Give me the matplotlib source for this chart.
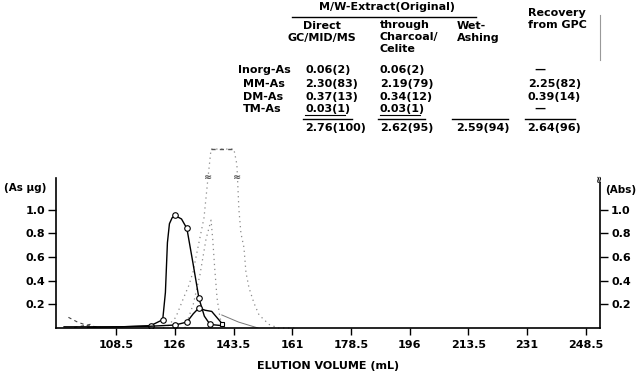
import matplotlib
matplotlib.use("Agg")
import matplotlib.pyplot as plt
from matplotlib.lines import Line2D

plt.rcParams['font.family'] = ['DejaVu Sans']
plt.rcParams['font.weight'] = 'bold'

# x ticks (elution volume, mL)
xticks = [108.5, 126, 143.5, 161, 178.5, 196, 213.5, 231, 248.5]
xtick_labels = ['108.5', '126', '143.5', '161', '178.5', '196', '213.5', '231', '248.5']
yticks = [0.2, 0.4, 0.6, 0.8, 1.0]

# As (ug) traces, solid with circles
mm_trace_x = [93, 110, 118.8, 122.4, 123.2, 123.8, 124.4, 125.2, 126, 128, 129.6, 131.4, 133.2, 134.8, 136.5, 140.0]
mm_trace_y = [0.01, 0.01, 0.02, 0.07, 0.30, 0.72, 0.88, 0.93, 0.95, 0.92, 0.84, 0.55, 0.25, 0.10, 0.03, 0.02]
mm_pts_x = [118.8, 122.4, 126, 129.6, 133.2, 136.5]
mm_pts_y = [0.02, 0.07, 0.95, 0.84, 0.25, 0.03]

dm_trace_x = [100, 118.8, 126, 129.6, 131.5, 133.2, 135, 137, 140]
dm_trace_y = [0.005, 0.015, 0.025, 0.05, 0.12, 0.17, 0.15, 0.14, 0.04]
dm_pts_x = [126, 129.6, 133.2]
dm_pts_y = [0.025, 0.05, 0.17]
dm_end_x = [140]
dm_end_y = [0.03]

# Abs traces (dotted)
big_x = [122.5, 124, 126.3, 128.7, 130.2, 131.4, 132.9, 134.7, 135.9, 136.8,
         143.6, 144.5, 145.1, 145.7, 146.6, 147.2, 148.1, 149.6, 151.1, 154.1, 156.8, 162]
big_y = [0.0, 0.02, 0.09, 0.26, 0.36, 0.47, 0.68, 0.93, 1.27, 1.51,
         1.51, 1.38, 1.0, 0.80, 0.68, 0.47, 0.34, 0.21, 0.11, 0.03, 0.0, 0.0]
top_x = [136.8, 143.6]
top_y = [1.51, 1.51]

small_x = [129, 131.5, 133.5, 135.3, 136.8, 137.3, 137.9, 138.6, 139.5, 141]
small_y = [0.0, 0.2, 0.45, 0.75, 0.91, 0.75, 0.5, 0.25, 0.08, 0.0]

tail_x = [140, 145, 150.8]
tail_y = [0.11, 0.05, 0.0]

left_x = [94.3, 97, 100, 104]
left_y = [0.09, 0.05, 0.02, 0.005]
left2_x = [96, 99, 101.5]
left2_y = [0.005, 0.02, 0.035]

# table
row_labels = ['Inorg-As', 'MM-As', 'DM-As', 'TM-As']
direct = ['0.06(2)', '2.30(83)', '0.37(13)', '0.03(1)']
charcoal = ['0.06(2)', '2.19(79)', '0.34(12)', '0.03(1)']
recovery = ['\u2014', '2.25(82)', '0.39(14)', '\u2014']
totals = ['2.76(100)', '2.62(95)', '2.59(94)', '2.64(96)']

W, H = 639, 376
fig = plt.figure(figsize=(W / 100, H / 100), dpi=100)
ax = fig.add_axes([56 / W, 1 - 328 / H, 544 / W, (328 - 138.4) / H])

ax.plot(big_x, big_y, color='#8a8a8a', lw=0.9, ls=(0, (1, 3)), clip_on=False)
ax.plot(top_x, top_y, color='#555555', lw=1.0, ls=(0, (3, 3)), clip_on=False)
ax.plot(small_x, small_y, color='#8a8a8a', lw=0.9, ls=(0, (1, 3)))
ax.plot(tail_x, tail_y, color='#777777', lw=0.7)
ax.plot(left_x, left_y, color='#444444', lw=0.8, ls=(0, (3, 3)))
ax.plot(left2_x, left2_y, color='#444444', lw=0.8, ls=(0, (3, 3)))

ax.plot(mm_trace_x, mm_trace_y, color='black', lw=1.0)
ax.plot(mm_pts_x, mm_pts_y, 'o', ms=4, mfc='white', mec='black', mew=0.8)
ax.plot(dm_trace_x, dm_trace_y, color='black', lw=1.0)
ax.plot(dm_pts_x, dm_pts_y, 'o', ms=4, mfc='white', mec='black', mew=0.8)
ax.plot(dm_end_x, dm_end_y, 's', ms=3.5, mfc='white', mec='black', mew=0.8)

# scale-break marks
for bx in [135.9, 144.5]:
    ax.text(bx, 1.27, '\u2248', fontsize=7, ha='center', va='center', color='#555555')

ax.set_xlim(90.6, 252.7)
ax.set_ylim(0, 1.6)
ax.set_xticks(xticks)
ax.set_xticklabels(xtick_labels)
ax.set_yticks(yticks)
ax.set_yticklabels(['0.2', '0.4', '0.6', '0.8', '1.0'])
ax.tick_params(axis='x', direction='out', length=5, width=1, labelsize=8, pad=4)
ax.tick_params(axis='y', direction='out', length=6, width=1, labelsize=8, pad=2,
               left=True, right=True, labelleft=True, labelright=True)
ax.spines['top'].set_visible(False)
ax.spines['left'].set_bounds(0, 1.27)
ax.spines['right'].set_bounds(0, 1.22)
for s in ['left', 'right', 'bottom']:
    ax.spines[s].set_linewidth(1.2)
ax.text(252.7, 1.27, '\u2248', fontsize=7, ha='center', va='center', rotation=90)

fig.text(4 / W, 1 - 188 / H, '(As \u00b5g)', fontsize=7.5, va='center', ha='left')
fig.text(605 / W, 1 - 190 / H, '(Abs)', fontsize=7.5, va='center', ha='left')
fig.text(328 / W, 1 - 366 / H, 'ELUTION VOLUME (mL)', fontsize=8, ha='center', va='center')


def T(px, py, s, ha='left'):
    fig.text(px / W, 1 - py / H, s, fontsize=8, ha=ha, va='center')


def rule(x0, x1, py, lw=1.0):
    fig.add_artist(Line2D([x0 / W, x1 / W], [1 - py / H, 1 - py / H],
                          color='black', lw=lw, transform=fig.transFigure))


T(387, 7, 'M/W-Extract(Original)', ha='center')
rule(292, 476, 17)
T(528, 13, 'Recovery')
T(528, 25, 'from GPC')
T(322, 26, 'Direct', ha='center')
T(322, 38, 'GC/MID/MS', ha='center')
T(380, 25, 'through')
T(380, 37, 'Charcoal/')
T(380, 49, 'Celite')
T(457, 26, 'Wet-')
T(457, 38, 'Ashing')

row_y = [70, 84, 97, 109]
for i in range(4):
    T(238 if i == 0 else 243, row_y[i], row_labels[i])
    T(305, row_y[i], direct[i])
    T(380, row_y[i], charcoal[i])
    T(540 if recovery[i] == '\u2014' else 528, row_y[i], recovery[i],
      ha='center' if recovery[i] == '\u2014' else 'left')
rule(305, 345, 115, 0.8)
rule(380, 420, 115, 0.8)
rule(303, 352, 119)
rule(378, 425, 119)
rule(452, 508, 119)
rule(525, 575, 119)
col_x = [305, 380, 456, 527]
for i in range(4):
    T(col_x[i], 128, totals[i])

fig.add_artist(Line2D([600 / W, 600 / W], [1 - 15 / H, 1 - 60 / H],
                      color='#999999', lw=0.8, transform=fig.transFigure))

fig.savefig('out.png', dpi=100)
